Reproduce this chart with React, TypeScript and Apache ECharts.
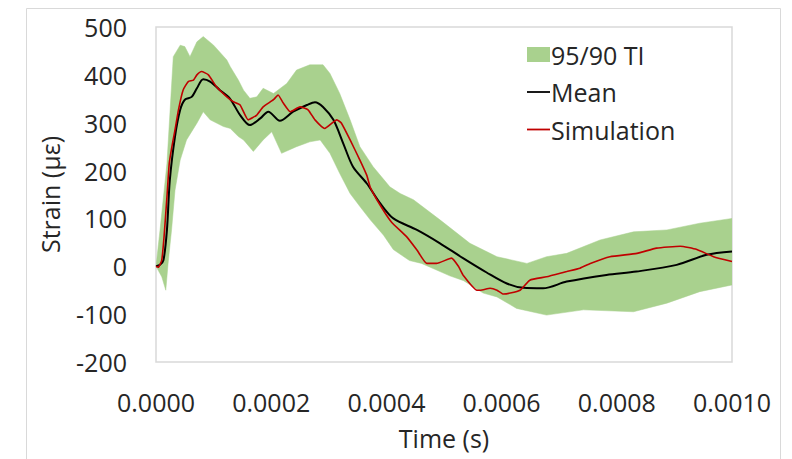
import React, { useEffect, useRef } from "react";
import * as echarts from "echarts";

// times in microseconds, strain in µε
const upperT = [0, 7, 19, 30, 42, 50, 59, 71, 82, 100, 123, 129, 143, 152, 163, 175, 186, 204, 227, 244, 267, 290, 302, 319, 337, 354, 377, 406, 424, 447, 493, 545, 592, 644, 678, 713, 771, 829, 887, 944, 1000];
const upperV = [0, 76, 215, 438, 462, 459, 438, 469, 480, 462, 431, 417, 389, 368, 351, 354, 372, 361, 382, 410, 421, 421, 403, 361, 306, 250, 208, 166, 152, 139, 97, 48, 20, 6, 20, 27, 55, 72, 76, 90, 100];

const lowerT = [0, 10, 17, 21, 27, 33, 42, 53, 71, 82, 94, 117, 129, 143, 152, 169, 186, 201, 218, 244, 267, 285, 302, 319, 337, 354, 372, 395, 412, 440, 461, 510, 534, 568, 592, 626, 678, 742, 829, 887, 944, 1000];
const lowerV = [0, -22, -50, 6, 76, 159, 222, 264, 299, 323, 306, 292, 288, 271, 264, 240, 264, 281, 236, 250, 260, 264, 236, 194, 152, 125, 97, 65, 35, 12, 6, -20, -30, -56, -64, -88, -102, -91, -95, -77, -53, -39];

const meanT = [0, 7, 13, 19, 24, 33, 42, 50, 62, 71, 82, 94, 111, 128, 146, 163, 181, 195, 215, 238, 262, 276, 290, 308, 325, 342, 366, 389, 412, 453, 493, 533, 574, 609, 638, 672, 713, 782, 834, 904, 956, 1000];
const meanV = [0, 3, 13, 76, 180, 271, 327, 348, 354, 372, 391, 386, 368, 351, 316, 295, 309, 323, 304, 323, 337, 343, 333, 306, 257, 208, 173, 132, 100, 76, 48, 17, -13, -36, -45, -46, -32, -18, -11, 3, 24, 31];

const simT = [0, 4, 10, 14, 19, 23, 27, 33, 39, 47, 56, 65, 71, 79, 91, 105, 123, 134, 146, 160, 175, 186, 204, 212, 221, 233, 250, 264, 276, 293, 314, 322, 337, 354, 366, 372, 389, 409, 435, 453, 470, 487, 513, 525, 534, 557, 563, 580, 592, 603, 615, 632, 649, 678, 713, 736, 754, 788, 835, 869, 910, 939, 968, 1000];
const simV = [0, -2, 13, 62, 145, 215, 246, 285, 327, 368, 386, 389, 400, 407, 400, 375, 354, 344, 337, 306, 316, 333, 348, 358, 341, 323, 333, 327, 306, 288, 306, 299, 264, 222, 190, 165, 128, 92, 62, 34, 6, 6, 17, 0, -20, -50, -50, -46, -50, -58, -56, -50, -29, -22, -11, -4, 6, 20, 27, 38, 42, 35, 20, 10];

const yTicks = { min: -200, max: 500, step: 100 };
const xTicks = { min: 0, max: 0.001, step: 0.0002 };

const FONT = "Open Sans";
const TEXT = "#262626";
const GREEN = "#A9D18E";
const LINE_ICON = "path://M0,0 M23,15 M0,6.6 L23,6.6 L23,8.4 L0,8.4 Z";

const toPairs = (t: number[], v: number[]) => t.map((x, i) => [x * 1e-6, v[i]]);

export default function App() {
  const ref = useRef<HTMLDivElement>(null);
  useEffect(() => {
    document.body.style.margin = "0";
    const chart = echarts.init(ref.current!, undefined, { renderer: "svg" });
    const upper = toPairs(upperT, upperV);
    const lower = toPairs(lowerT, lowerV);
    chart.setOption({
      animation: false,
      backgroundColor: "#ffffff",
      textStyle: { fontFamily: FONT },
      graphic: [
        {
          type: "rect",
          shape: { x: 26.5, y: 8.5, width: 754, height: 470 },
          style: { fill: "none", stroke: "#d9d9d9", lineWidth: 1 },
          silent: true,
          z: -10,
        },
      ],
      grid: {
        left: 156,
        right: 60,
        top: 27,
        bottom: 97,
        show: true,
        borderColor: "#d9d9d9",
        borderWidth: 1.5,
        backgroundColor: "transparent",
      },
      legend: {
        orient: "vertical",
        left: 522,
        top: 37,
        itemWidth: 23,
        itemHeight: 15,
        itemGap: 12.5,
        textStyle: { fontFamily: FONT, fontSize: 25, color: TEXT, padding: [0, 0, 0, -4] },
        data: [
          { name: "95/90 TI", icon: "rect" },
          { name: "Mean", icon: LINE_ICON },
          { name: "Simulation", icon: LINE_ICON },
        ],
      },
      xAxis: {
        type: "value",
        min: xTicks.min,
        max: xTicks.max,
        interval: xTicks.step,
        name: "Time (s)",
        nameLocation: "middle",
        nameGap: 63,
        nameTextStyle: { fontFamily: FONT, fontSize: 25, color: TEXT },
        axisLine: { show: false },
        axisTick: { show: false },
        splitLine: { show: false },
        axisLabel: {
          fontFamily: FONT,
          fontSize: 25,
          color: TEXT,
          margin: 27,
          formatter: (v: number) => v.toFixed(4),
        },
      },
      yAxis: {
        type: "value",
        min: yTicks.min,
        max: yTicks.max,
        interval: yTicks.step,
        name: "Strain (με)",
        nameLocation: "middle",
        nameGap: 94,
        nameTextStyle: { fontFamily: FONT, fontSize: 25, color: TEXT },
        axisLine: { show: false },
        axisTick: { show: false },
        splitLine: { show: false },
        axisLabel: { fontFamily: FONT, fontSize: 25, color: TEXT, margin: 29 },
      },
      series: [
        {
          name: "95/90 TI",
          type: "custom",
          itemStyle: { color: GREEN },
          data: [[0, 0]],
          clip: true,
          renderItem: (params: any, api: any) => {
            const pts: number[][] = [];
            for (const p of upper) pts.push(api.coord(p));
            for (let i = lower.length - 1; i >= 0; i--) pts.push(api.coord(lower[i]));
            return {
              type: "polygon",
              shape: { points: pts },
              style: { fill: GREEN, stroke: GREEN, lineWidth: 0.5 },
            };
          },
          z: 1,
        },
        {
          name: "Mean",
          type: "line",
          data: toPairs(meanT, meanV),
          symbol: "none",
          smooth: 0.3,
          lineStyle: { color: "#000000", width: 2 },
          itemStyle: { color: "#000000" },
          z: 2,
        },
        {
          name: "Simulation",
          type: "line",
          data: toPairs(simT, simV),
          symbol: "none",
          smooth: 0.15,
          lineStyle: { color: "#C00000", width: 1.6 },
          itemStyle: { color: "#C00000" },
          z: 3,
        },
      ],
    });
    return () => chart.dispose();
  }, []);
  return <div ref={ref} style={{ width: 792, height: 459 }} />;
}
